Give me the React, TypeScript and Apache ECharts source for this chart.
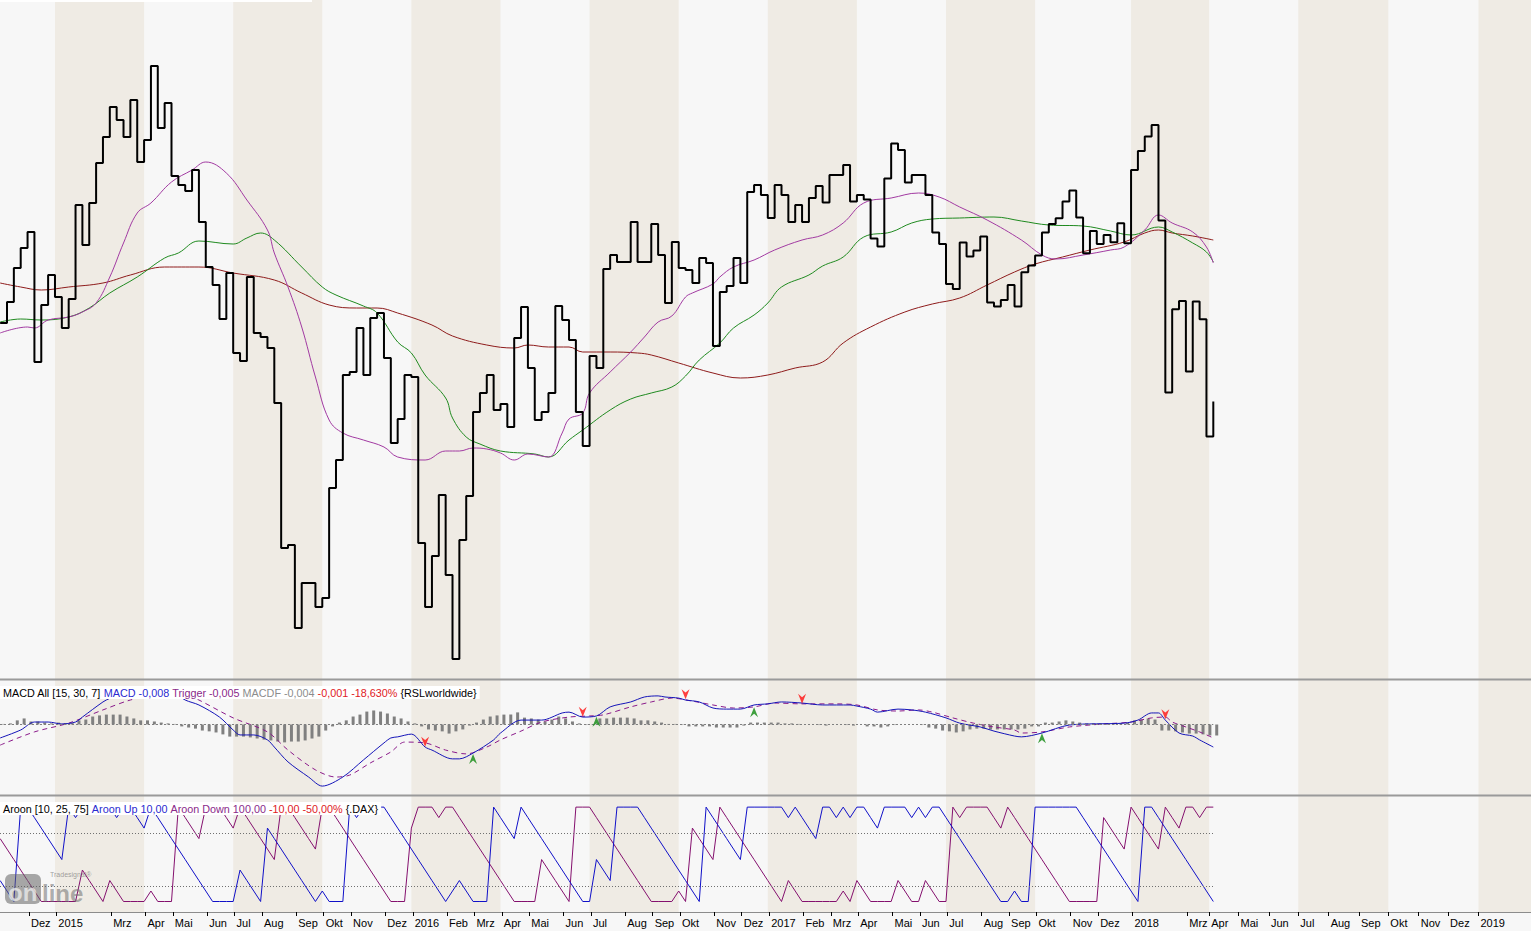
import React, { useEffect, useRef } from 'react';
import * as echarts from 'echarts';

const FONT = '"Liberation Sans", Arial, sans-serif';

// weekly bars: bar k covers the week starting START + k weeks
const START = Date.UTC(2014, 10, 3);
const DAY = 86400000;
const WEEK = 7 * DAY;
const LAST_BAR = 177;
const FUTURE_SHIFT = 1.46; // future calendar is laid out by days, not by bars
const SLOT_PX = 6.854;
const X_MIN = -0.0213;
const X_MAX = X_MIN + 1531 / SLOT_PX;

// RSL weekly closes (bar 0 .. 177)
const rsl = [
  97.85, 98.9, 100.6, 101.6, 102.4, 95.9, 98.75, 100.25, 99.15, 97.6,
  99.05, 103.75, 101.75, 103.85, 105.85, 107.15, 108.65, 108.0, 107.15, 109.0,
  105.9, 107.0, 110.7, 107.6, 108.85, 105.2, 104.75, 104.45, 105.5, 102.9,
  100.65, 99.75, 98.05, 100.35, 96.35, 95.95, 100.15, 97.35, 97.15, 96.6,
  93.85, 86.6, 86.75, 82.6, 84.85, 84.85, 83.65, 84.1, 89.6, 91.0,
  95.25, 95.4, 97.6, 95.25, 98.1, 98.35, 96.1, 91.85, 93.05, 95.25,
  95.15, 86.85, 83.65, 86.2, 89.25, 85.25, 81.05, 87.0, 89.2, 93.4,
  94.35, 95.25, 93.5, 93.8, 92.65, 97.1, 98.65, 95.6, 93.0, 93.4,
  94.35, 98.7, 98.0, 97.0, 93.4, 91.7, 96.2, 95.6, 100.55, 101.25,
  100.9, 100.9, 102.9, 100.9, 100.9, 102.8, 101.25, 98.85, 101.9, 100.6,
  100.5, 99.85, 101.1, 100.85, 96.7, 99.4, 99.7, 101.1, 99.85, 104.4,
  104.75, 104.25, 103.1, 104.75, 104.25, 102.9, 103.75, 102.9, 104.1, 104.7,
  103.87, 105.25, 105.25, 105.75, 103.92, 104.25, 104.03, 102.08, 101.67, 105.08,
  106.83, 106.5, 104.87, 105.25, 105.25, 104.25, 102.37, 101.8, 99.8, 99.55,
  101.87, 101.17, 101.47, 102.17, 98.87, 98.67, 99.0, 99.75, 98.67, 100.39,
  100.72, 101.22, 102.37, 102.8, 103.09, 103.92, 104.47, 103.12, 101.34, 102.45,
  101.8, 102.25, 101.89, 102.84, 101.84, 105.5, 106.45, 107.17, 107.75, 102.97,
  94.37, 98.54, 98.95, 95.42, 98.92, 98.04, 92.17, 93.92,
];

// moving averages [bar, value]
const maShort = [
  [0, 97.35], [4, 97.65], [5, 97.6], [7, 98.0], [10, 98.15], [12, 98.4], [14, 98.85], [16, 100.15],
  [18, 101.85], [20, 103.35], [22, 103.85], [25, 104.9], [28, 105.5], [30, 105.9], [33, 105.35],
  [36, 104.0], [39, 102.5], [40, 101.35], [42, 99.65], [44, 97.65], [46, 95.15], [48, 93.0],
  [50, 92.35], [53, 92.0], [56, 91.65], [58, 91.15], [62, 91.0], [65, 91.45], [67, 91.45],
  [69, 91.6], [71, 91.55], [73, 91.35], [75, 91.0], [77, 91.3], [80, 91.15], [82, 92.35],
  [83, 93.05], [85, 93.35], [86, 94.35], [89, 95.4], [92, 96.4], [94, 97.15], [96, 97.9],
  [98, 98.2], [100, 99.15], [101, 99.35], [104, 99.8], [105, 100.15], [107, 100.65], [110, 101.0],
  [113, 101.5], [117, 102.0], [120, 102.25], [123, 102.85], [126, 103.85], [130, 104.1],
  [134, 104.35], [137, 104.15], [140, 103.65], [144, 103.0], [149, 102.0], [152, 101.25],
  [154, 101.05], [158, 101.25], [162, 101.5], [164, 101.65], [167, 102.5], [169, 103.25],
  [171, 102.85], [174, 102.4], [176, 101.65], [177, 100.85],
];
const maMid = [
  [0, 97.9], [3, 98.05], [6, 98.0], [10, 98.15], [13, 98.6], [16, 99.35], [20, 100.15], [24, 101.1],
  [26, 101.35], [29, 101.95], [34, 101.8], [36, 102.1], [38, 102.35], [40, 102.0], [44, 100.65],
  [47, 99.65], [49, 99.25], [53, 98.7], [55, 98.35], [58, 96.9], [60, 96.35], [62, 95.25],
  [65, 94.1], [66, 93.1], [68, 92.15], [70, 91.8], [73, 91.45], [78, 91.3], [80, 91.15],
  [83, 92.0], [85, 92.5], [89, 93.5], [92, 94.05], [95, 94.35], [98, 94.65], [100, 95.2],
  [102, 96.0], [105, 96.85], [107, 97.6], [110, 98.25], [112, 98.85], [114, 99.65], [118, 100.25],
  [120, 100.7], [123, 101.15], [126, 102.15], [130, 102.4], [133, 102.85], [136, 103.05],
  [140, 103.1], [145, 103.15], [149, 102.95], [153, 102.75], [158, 102.7], [162, 102.45],
  [165, 102.25], [169, 102.65], [171, 102.4], [174, 101.85], [176, 101.4], [177, 100.9],
];
const maLong = [
  [0, 99.85], [3, 99.65], [6, 99.5], [10, 99.65], [15, 99.85], [19, 100.25], [24, 100.65],
  [29, 100.65], [34, 100.35], [40, 100.0], [44, 99.35], [48, 98.75], [52, 98.6], [55, 98.6],
  [58, 98.35], [63, 97.75], [66, 97.2], [71, 96.75], [75, 96.6], [77, 96.75], [80, 96.65],
  [83, 96.65], [85, 96.4], [89, 96.4], [93, 96.35], [95, 96.25], [99, 95.85], [104, 95.35],
  [108, 95.1], [112, 95.25], [116, 95.6], [120, 95.9], [123, 96.85], [127, 97.65], [132, 98.4],
  [136, 98.8], [140, 99.1], [144, 99.75], [148, 100.4], [151, 100.8], [155, 101.15], [159, 101.5],
  [164, 101.9], [167, 102.35], [169, 102.5], [171, 102.35], [174, 102.2], [177, 102.0],
];

// MACD [bar, value]
const macdLine = [
  [0, -0.0049], [3, -0.002], [5, 0.0009], [7, 0.0009], [9, 0.0002], [11, 0.0009], [12, 0.0027],
  [15, 0.0082], [16, 0.0095], [19, 0.0122], [22, 0.013], [25, 0.012], [27, 0.0089], [29, 0.0071],
  [32, 0.0027], [34, -0.002], [35, -0.0038], [37, -0.0038], [39, -0.0056], [40, -0.0082],
  [42, -0.0136], [45, -0.0191], [47, -0.0224], [50, -0.0191], [53, -0.0129], [56, -0.0067],
  [57, -0.0049], [58, -0.0045], [60, -0.0035], [62, -0.0082], [63, -0.0093], [66, -0.0125],
  [67, -0.0125], [69, -0.0104], [72, -0.0056], [73, -0.0031], [76, 0.0016], [79, 0.0016],
  [82, 0.0042], [83, 0.0045], [85, 0.0027], [87, 0.0031], [89, 0.0064], [92, 0.0082],
  [94, 0.01], [96, 0.0104], [97, 0.01], [99, 0.0096], [100, 0.0089], [102, 0.0082], [104, 0.006],
  [106, 0.0056], [108, 0.0056], [110, 0.0071], [112, 0.0075], [114, 0.0082], [117, 0.0078],
  [120, 0.0071], [124, 0.0071], [125, 0.0067], [127, 0.0056], [128, 0.0045], [131, 0.0056],
  [133, 0.0053], [135, 0.0045], [138, 0.0024], [140, 0.0005], [143, -0.0009], [145, -0.0024],
  [148, -0.0042], [149, -0.0045], [152, -0.0031], [156, -0.0002], [164, 0.0005], [166, 0.0016],
  [168, 0.0042], [169, 0.0042], [170, 0.0016], [172, -0.0031], [174, -0.0042], [175, -0.0056],
  [177, -0.0082],
];
const triggerLine = [
  [0, -0.0075], [5, -0.0027], [10, 0.0005], [15, 0.0053], [19, 0.0089], [24, 0.0115], [27, 0.011],
  [29, 0.0089], [34, 0.0024], [39, -0.0027], [42, -0.0093], [46, -0.0165], [49, -0.0191],
  [51, -0.0184], [54, -0.014], [57, -0.01], [59, -0.0064], [62, -0.0067], [65, -0.0093],
  [68, -0.0107], [71, -0.0082], [73, -0.0056], [76, -0.0024], [79, 0.0009], [83, 0.0027],
  [86, 0.0031], [88, 0.0035], [92, 0.0064], [95, 0.0082], [98, 0.0096], [101, 0.0085],
  [104, 0.0071], [107, 0.006], [110, 0.0064], [113, 0.0078], [117, 0.0075], [122, 0.0075],
  [125, 0.0071], [128, 0.0053], [131, 0.0049], [134, 0.0053], [136, 0.0045], [139, 0.0024],
  [142, 0.0005], [145, -0.0009], [148, -0.002], [149, -0.0031], [152, -0.0027], [156, -0.0009],
  [161, 0.0002], [165, 0.0009], [168, 0.0024], [170, 0.0027], [171, 0.0009], [173, -0.0009],
  [175, -0.0027], [177, -0.0049],
];
// MACDF histogram, bar 0 .. 177
const macdf = [
  0.0002, 0.0004, 0.0015, 0.0022, 0.0011, 0.0011, 0.0007, 0.0004, 0.0007, 0.0005,
  0.0005, 0.0015, 0.0018, 0.0029, 0.0033, 0.0036, 0.0036, 0.0036, 0.0029, 0.0022,
  0.0015, 0.0015, 0.0011, 0.0007, 0.0004, 0.0002, -0.0007, -0.0011, -0.0015, -0.0022,
  -0.0025, -0.0029, -0.0036, -0.0044, -0.0044, -0.0044, -0.0047, -0.0051, -0.0055, -0.0058,
  -0.0062, -0.0065, -0.0062, -0.0062, -0.0058, -0.0051, -0.0044, -0.0022, -0.0007, 0.0007,
  0.0015, 0.0029, 0.0036, 0.0047, 0.0051, 0.0047, 0.004, 0.0029, 0.0022, 0.0011,
  0.0004, -0.0007, -0.0018, -0.0022, -0.0025, -0.0033, -0.0025, -0.0018, -0.0004, 0.0007,
  0.0018, 0.0029, 0.0033, 0.0036, 0.0036, 0.0044, 0.0025, 0.0022, 0.0018, 0.0011,
  0.0018, 0.0029, 0.0022, 0.0011, 0.0004, -0.0002, -0.0002, 0.0022, 0.0022, 0.0025,
  0.0025, 0.0025, 0.0022, 0.0015, 0.0015, 0.0011, 0.0007, 0.0002, 0.0002, -0.0002,
  -0.0007, -0.0007, -0.0007, -0.0007, -0.0011, -0.0011, -0.0011, -0.0011, -0.0004, 0.0007,
  0.0007, 0.0007, 0.0007, 0.0007, 0.0004, 0.0004, 0.0002, 0, 0, -0.0002,
  -0.0004, 0, 0, -0.0002, -0.0004, 0, -0.0007, -0.0007, -0.0011, -0.0007,
  -0.0002, 0, 0, 0, -0.0002, -0.0011, -0.0015, -0.0022, -0.0025, -0.0029,
  -0.0025, -0.0018, -0.0015, -0.0015, -0.0018, -0.0018, -0.0018, -0.0018, -0.0018, -0.0015,
  -0.0007, -0.0007, 0.0007, 0.0007, 0.0011, 0.0015, 0.0011, 0.0007, 0.0004, 0.0004,
  0.0004, 0.0004, 0.0004, 0.0004, 0.0007, 0.0015, 0.0018, 0.0022, 0.0018, -0.0022,
  -0.0022, -0.0025, -0.0029, -0.0033, -0.0033, -0.0036, -0.004, -0.004,
];
const sellSignals = [[62, -0.0081], [85, 0.0028], [100, 0.0092], [117, 0.0075], [170, 0.0019]];
const buySignals = [[69, -0.0107], [87, 0.0028], [110, 0.0063], [152, -0.0032]];

// Aroon (DAX), bar 0 .. 177
const aroonUp = [
  30, 20, 10, 100, 100, 90, 80, 70, 60, 50,
  100, 90, 100, 100, 100, 100, 100, 90, 100, 100,
  90, 80, 100, 90, 80, 70, 60, 50, 40, 30,
  20, 10, 10, 10, 10, 40, 30, 20, 10, 80,
  70, 60, 50, 40, 30, 20, 10, 20, 10, 10,
  10, 100, 90, 100, 100, 100, 100, 90, 80, 70,
  60, 50, 40, 30, 20, 10, 20, 30, 20, 10,
  10, 10, 100, 90, 80, 70, 100, 90, 80, 70,
  60, 50, 40, 30, 20, 10, 10, 50, 40, 30,
  100, 100, 100, 100, 90, 80, 70, 60, 50, 40,
  30, 20, 10, 100, 90, 80, 70, 60, 50, 100,
  100, 100, 100, 100, 100, 90, 100, 90, 80, 70,
  100, 100, 90, 100, 90, 100, 100, 90, 80, 100,
  100, 100, 100, 90, 100, 90, 100, 100, 90, 80,
  70, 60, 50, 40, 30, 20, 10, 10, 20, 10,
  10, 100, 100, 100, 100, 100, 100, 100, 90, 80,
  70, 60, 50, 40, 30, 20, 10, 100, 100, 90,
  80, 70, 60, 50, 40, 30, 20, 10,
];
const aroonDown = [
  70, 60, 50, 40, 30, 20, 10, 10, 10, 10,
  10, 10, 40, 30, 20, 10, 30, 20, 10, 10,
  10, 10, 20, 10, 10, 10, 100, 90, 80, 70,
  100, 100, 100, 90, 80, 100, 90, 80, 70, 60,
  50, 100, 100, 90, 80, 70, 60, 100, 100, 90,
  80, 70, 60, 50, 40, 30, 20, 10, 10, 10,
  80, 100, 100, 100, 90, 100, 100, 90, 80, 70,
  60, 50, 40, 30, 20, 10, 10, 10, 10, 50,
  40, 30, 20, 10, 100, 100, 100, 90, 80, 70,
  60, 50, 40, 30, 20, 10, 10, 10, 10, 20,
  10, 80, 70, 60, 50, 100, 90, 80, 70, 60,
  50, 40, 30, 20, 10, 30, 20, 10, 10, 10,
  10, 10, 10, 20, 10, 30, 20, 10, 10, 10,
  10, 30, 20, 10, 10, 30, 20, 10, 10, 100,
  90, 100, 100, 100, 100, 90, 80, 100, 90, 80,
  70, 60, 50, 40, 30, 20, 10, 10, 10, 10,
  10, 90, 80, 70, 60, 100, 90, 80, 70, 60,
  100, 90, 80, 100, 100, 90, 100, 100,
];

// time axis
const axisMonths = [
  '2014-12', '2015-01', '2015-03', '2015-04', '2015-05', '2015-06', '2015-07', '2015-08', '2015-09',
  '2015-10', '2015-11', '2015-12', '2016-01', '2016-02', '2016-03', '2016-04', '2016-05', '2016-06',
  '2016-07', '2016-08', '2016-09', '2016-10', '2016-11', '2016-12', '2017-01', '2017-02', '2017-03',
  '2017-04', '2017-05', '2017-06', '2017-07', '2017-08', '2017-09', '2017-10', '2017-11', '2017-12',
  '2018-01', '2018-03', '2018-04', '2018-05', '2018-06', '2018-07', '2018-08', '2018-09', '2018-10',
  '2018-11', '2018-12', '2019-01',
];
const monthNames = ['Jan', 'Feb', 'Mrz', 'Apr', 'Mai', 'Jun', 'Jul', 'Aug', 'Sep', 'Okt', 'Nov', 'Dez'];
const shadedQuarters = [
  ['2015-01', '2015-04'], ['2015-07', '2015-10'], ['2016-01', '2016-04'], ['2016-07', '2016-10'],
  ['2017-01', '2017-04'], ['2017-07', '2017-10'], ['2018-01', '2018-04'], ['2018-07', '2018-10'],
  ['2019-01', null],
];

function weeksOf(ym: string) {
  const [y, m] = ym.split('-').map(Number);
  return (Date.UTC(y, m - 1, 1) - START) / WEEK;
}
function slotOf(ym: string) {
  const w = weeksOf(ym);
  return w > LAST_BAR ? w - FUTURE_SHIFT : Math.floor(w);
}
function tickSlot(ym: string) {
  const w = weeksOf(ym);
  return w > LAST_BAR ? w - FUTURE_SHIFT : Math.floor(w) + 0.2;
}
function labelOf(ym: string) {
  const [y, m] = ym.split('-').map(Number);
  return m === 1 ? String(y) : monthNames[m - 1];
}

const tickValues = axisMonths.map(tickSlot);
const tickTexts = axisMonths.map(labelOf);

const bandData = shadedQuarters.map(([a, b]) => [
  { xAxis: slotOf(a as string) },
  { xAxis: b ? slotOf(b) : X_MAX },
]);
const bandArea = {
  silent: true,
  itemStyle: { color: '#efebe4' },
  label: { show: false },
  data: bandData,
};

const arrowDown = 'path://M0,0 L5,4 L10,0 L5,12 Z';
const arrowUp = 'path://M0,12 L5,8 L10,12 L5,0 Z';

function buildOption() {
  const xAxes = [0, 1, 2].map((i) => ({
    type: 'value',
    gridIndex: i,
    min: X_MIN,
    max: X_MAX,
    show: i === 2,
    splitLine: { show: false },
    axisLine: { show: i === 2, onZero: false, lineStyle: { color: '#8c8c8c', width: 1 } },
    axisTick: {
      show: i === 2,
      customValues: tickValues,
      length: 4,
      lineStyle: { color: '#000', width: 1 },
    },
    axisLabel: {
      show: i === 2,
      customValues: tickValues,
      margin: 5,
      align: 'left',
      padding: [0, 0, 0, 2],
      color: '#000',
      fontSize: 11,
      fontFamily: FONT,
      formatter: (v: number) => {
        let best = 0;
        for (let j = 1; j < tickValues.length; j++) {
          if (Math.abs(tickValues[j] - v) < Math.abs(tickValues[best] - v)) best = j;
        }
        return tickTexts[best];
      },
    },
  }));

  return {
    animation: false,
    backgroundColor: '#f7f7f7',
    textStyle: { fontFamily: FONT },
    title: [
      {
        left: 0,
        top: 686,
        padding: [1, 3, 1, 3],
        backgroundColor: '#ffffff',
        text: 'MACD All [15, 30, 7] {b|MACD -0,008} {p|Trigger -0,005} {g|MACDF -0,004} {r|-0,001 -18,630%} {RSLworldwide}',
        textStyle: {
          fontSize: 10.8, fontWeight: 'normal', color: '#000', fontFamily: FONT,
          rich: {
            b: { color: '#2a2ad0', fontSize: 10.8, fontFamily: FONT },
            p: { color: '#8a2a8a', fontSize: 10.8, fontFamily: FONT },
            g: { color: '#8c8c8c', fontSize: 10.8, fontFamily: FONT },
            r: { color: '#e0201e', fontSize: 10.8, fontFamily: FONT },
          },
        },
      },
      {
        left: 0,
        top: 802,
        padding: [1, 3, 1, 3],
        backgroundColor: '#ffffff',
        text: 'Aroon [10, 25, 75] {b|Aroon Up 10,00} {p|Aroon Down 100,00} {r|-10,00 -50,00%} {.DAX}',
        textStyle: {
          fontSize: 10.8, fontWeight: 'normal', color: '#000', fontFamily: FONT,
          rich: {
            b: { color: '#2a2ad0', fontSize: 10.8, fontFamily: FONT },
            p: { color: '#8a2a8a', fontSize: 10.8, fontFamily: FONT },
            r: { color: '#e0201e', fontSize: 10.8, fontFamily: FONT },
          },
        },
      },
    ],
    grid: [
      { left: 0, right: 0, top: 0, height: 679, containLabel: false, outerBoundsMode: 'none' },
      { left: 0, right: 0, top: 680, height: 115, containLabel: false, outerBoundsMode: 'none' },
      { left: 0, right: 0, top: 796, height: 116, containLabel: false, outerBoundsMode: 'none' },
    ],
    xAxis: xAxes,
    yAxis: [
      { type: 'value', gridIndex: 0, min: 80.05, max: 114, show: false, splitLine: { show: false } },
      { type: 'value', gridIndex: 1, min: -0.02564, max: 0.01618, show: false, splitLine: { show: false } },
      { type: 'value', gridIndex: 2, min: 0, max: 110.6, show: false, splitLine: { show: false } },
    ],
    series: [
      {
        name: 'MA long', type: 'line', xAxisIndex: 0, yAxisIndex: 0, data: maLong,
        smooth: 0.4, symbol: 'none', z: 3, lineStyle: { color: '#8e1b1b', width: 1 },
        markArea: bandArea,
      },
      {
        name: 'MA mid', type: 'line', xAxisIndex: 0, yAxisIndex: 0, data: maMid,
        smooth: 0.4, symbol: 'none', z: 3, lineStyle: { color: '#1f8a1f', width: 1 },
      },
      {
        name: 'MA short', type: 'line', xAxisIndex: 0, yAxisIndex: 0, data: maShort,
        smooth: 0.4, symbol: 'none', z: 3, lineStyle: { color: '#a23aa2', width: 1 },
      },
      {
        name: 'RSL', type: 'line', xAxisIndex: 0, yAxisIndex: 0,
        data: rsl.map((v, k) => [k, v]), step: 'end', symbol: 'none', z: 4,
        lineStyle: { color: '#000', width: 2 },
      },
      {
        name: 'MACDF', type: 'bar', xAxisIndex: 1, yAxisIndex: 1,
        data: macdf.map((v, k) => [k + 0.5, v]), barWidth: 3, z: 2,
        itemStyle: { color: '#808080' },
        markArea: bandArea,
        markLine: {
          silent: true, symbol: ['none', 'none'], label: { show: false },
          lineStyle: { color: '#808080', type: [2, 2], width: 1 },
          data: [[{ coord: [X_MIN, 0] }, { coord: [LAST_BAR, 0] }]],
        },
      },
      {
        name: 'Trigger', type: 'line', xAxisIndex: 1, yAxisIndex: 1, data: triggerLine,
        smooth: 0.3, symbol: 'none', z: 3,
        lineStyle: { color: '#8a1a8a', width: 1, type: [5, 4] },
      },
      {
        name: 'MACD', type: 'line', xAxisIndex: 1, yAxisIndex: 1, data: macdLine,
        smooth: 0.3, symbol: 'none', z: 4, lineStyle: { color: '#1414b8', width: 1 },
      },
      {
        name: 'Sell', type: 'scatter', xAxisIndex: 1, yAxisIndex: 1, data: sellSignals,
        symbol: arrowDown, symbolSize: [8, 10], symbolOffset: [0, '-50%'], z: 5,
        itemStyle: { color: '#ff1010' },
      },
      {
        name: 'Buy', type: 'scatter', xAxisIndex: 1, yAxisIndex: 1, data: buySignals,
        symbol: arrowUp, symbolSize: [8, 10], symbolOffset: [0, '50%'], z: 5,
        itemStyle: { color: '#108a10' },
      },
      {
        name: 'Aroon Down', type: 'line', xAxisIndex: 2, yAxisIndex: 2,
        data: aroonDown.map((v, k) => [k, v]), symbol: 'none', z: 3,
        lineStyle: { color: '#84106e', width: 1 },
        markArea: bandArea,
        markLine: {
          silent: true, symbol: ['none', 'none'], label: { show: false },
          lineStyle: { color: '#707070', type: [1, 2], width: 1 },
          data: [
            [{ coord: [X_MIN, 25] }, { coord: [LAST_BAR, 25] }],
            [{ coord: [X_MIN, 75] }, { coord: [LAST_BAR, 75] }],
          ],
        },
      },
      {
        name: 'Aroon Up', type: 'line', xAxisIndex: 2, yAxisIndex: 2,
        data: aroonUp.map((v, k) => [k, v]), symbol: 'none', z: 4,
        lineStyle: { color: '#1010c8', width: 1 },
      },
    ],
    graphic: [
      { type: 'rect', shape: { x: 0, y: 0, width: 312, height: 2 }, style: { fill: '#ffffff' }, z: 10 },
      { type: 'line', shape: { x1: 0, y1: 679.5, x2: 1531, y2: 679.5 }, style: { stroke: '#9a9a9a', lineWidth: 2 }, z: 10 },
      { type: 'line', shape: { x1: 0, y1: 795.5, x2: 1531, y2: 795.5 }, style: { stroke: '#9a9a9a', lineWidth: 2 }, z: 10 },
      {
        type: 'rect', shape: { x: 5, y: 874, width: 36, height: 30, r: 6 },
        style: { fill: 'rgba(100,100,100,0.55)' }, z: 6,
      },
      {
        type: 'text', x: 8, y: 892, z: 7,
        style: { text: 'on', font: 'bold 24px "Liberation Sans", Arial', fill: 'rgba(235,235,235,0.8)', verticalAlign: 'middle' },
      },
      {
        type: 'text', x: 42, y: 893, z: 7,
        style: { text: 'line', font: 'bold 24px "Liberation Sans", Arial', fill: 'rgba(110,110,110,0.55)', verticalAlign: 'middle' },
      },
      {
        type: 'text', x: 50, y: 874, z: 7,
        style: { text: 'Tradesignal®', font: '7px "Liberation Sans", Arial', fill: 'rgba(120,120,120,0.7)', verticalAlign: 'middle' },
      },
    ],
  };
}

export default function App() {
  const ref = useRef<HTMLDivElement>(null);
  useEffect(() => {
    document.body.style.margin = '0';
    const chart = echarts.init(ref.current as HTMLDivElement, null, { renderer: 'svg' });
    chart.setOption(buildOption() as any);
    return () => chart.dispose();
  }, []);
  return <div ref={ref} style={{ width: 1531, height: 931 }} />;
}
